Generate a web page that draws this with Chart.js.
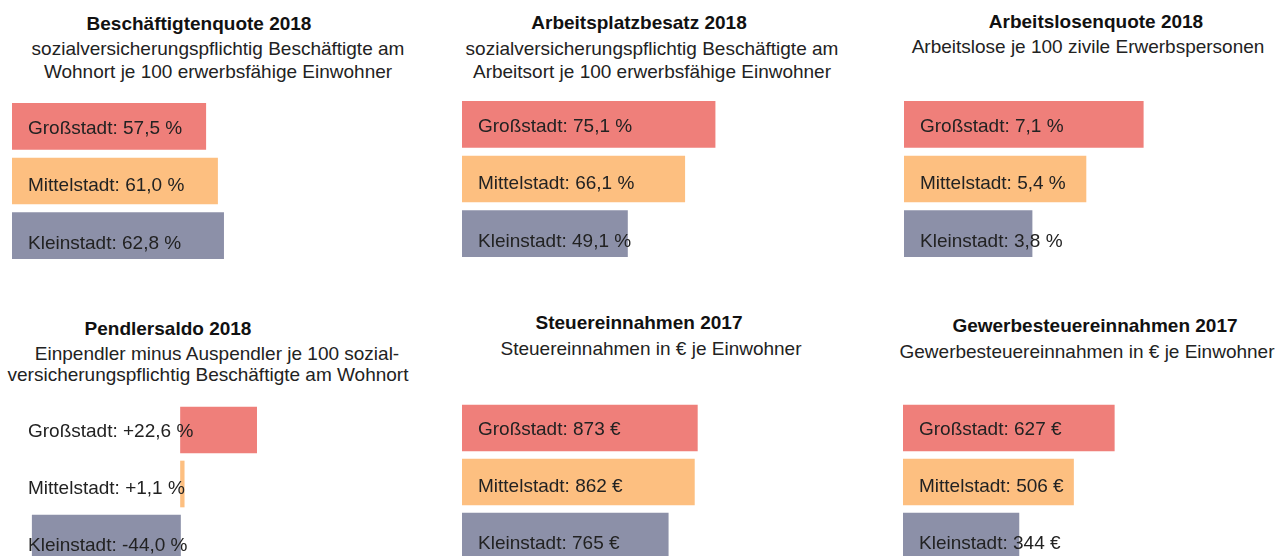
<!DOCTYPE html>
<html lang="de">
<head>
<meta charset="utf-8">
<title>Großstadt, Mittelstadt, Kleinstadt</title>
<script src="https://cdn.jsdelivr.net/npm/chart.js@4/dist/chart.umd.min.js"></script>
<style>
  html, body { margin: 0; padding: 0; background: #fff; }
  body { width: 1279px; height: 556px; position: relative; overflow: hidden;
         font-family: "Liberation Sans", Arial, sans-serif; color: #222; }
  .line { position: absolute; white-space: nowrap; font-size: 19px; line-height: 23px;
          transform: translateX(-50%); }
  .line.head { font-weight: bold; color: #111; }
  .plot { position: absolute; }
</style>
</head>
<body>
<script>
/* ---------- data ---------- */
const categories = ["Großstadt", "Mittelstadt", "Kleinstadt"];
const beschaeftigtenquote = [57.5, 61.0, 62.8];
const arbeitsplatzbesatz = [75.1, 66.1, 49.1];
const arbeitslosenquote = [7.1, 5.4, 3.8];
const pendlersaldo = [22.6, 1.1, -44.0];
const steuereinnahmen = [873, 862, 765];
const gewerbesteuer = [627, 506, 344];

const colors = ["#ef7f7a", "#fdbf80", "#8c90a8"];

/* ---------- formatters ---------- */
const pct = v => v.toFixed(1).replace(".", ",") + " %";
const pctSigned = v => (v > 0 ? "+" : "") + pct(v);
const eur = v => v + " €";

/* ---------- panels ---------- */
const panels = [
  { data: beschaeftigtenquote, fmt: pct, min: 0, max: 100,
    left: 12, top: 99, height: 164,
    lines: [["Beschäftigtenquote 2018", 199, 30, true],
            ["sozialversicherungspflichtig Beschäftigte am", 218, 55],
            ["Wohnort je 100 erwerbsfähige Einwohner", 218, 78]] },
  { data: arbeitsplatzbesatz, fmt: pct, min: 0, max: 100,
    left: 462, top: 97, height: 164,
    lines: [["Arbeitsplatzbesatz 2018", 639, 29, true],
            ["sozialversicherungspflichtig Beschäftigte am", 652, 55],
            ["Arbeitsort je 100 erwerbsfähige Einwohner", 652, 78]] },
  { data: arbeitslosenquote, fmt: pct, min: 0, max: 10,
    left: 904, top: 97, height: 164,
    lines: [["Arbeitslosenquote 2018", 1096, 28, true],
            ["Arbeitslose je 100 zivile Erwerbspersonen", 1088, 53]] },
  { data: pendlersaldo, fmt: pctSigned, min: -50, max: 50,
    left: 12, top: 403, height: 162,
    lines: [["Pendlersaldo 2018", 168, 335, true],
            ["Einpendler minus Auspendler je 100 sozial-", 217, 360],
            ["versicherungspflichtig Beschäftigte am Wohnort", 208, 381]] },
  { data: steuereinnahmen, fmt: eur, min: 0, max: 1250,
    left: 462, top: 401, height: 162,
    lines: [["Steuereinnahmen 2017", 639, 329, true],
            ["Steuereinnahmen in € je Einwohner", 651, 355]] },
  { data: gewerbesteuer, fmt: eur, min: 0, max: 1000,
    left: 903, top: 401, height: 162,
    lines: [["Gewerbesteuereinnahmen 2017", 1095, 332, true],
            ["Gewerbesteuereinnahmen in € je Einwohner", 1087, 358]] },
];

// text inside the bars, always from the left edge of the plot
const barLabels = {
  id: "barLabels",
  afterDatasetsDraw(chart, args, opts) {
    const { ctx, chartArea } = chart;
    const meta = chart.getDatasetMeta(0);
    ctx.save();
    ctx.font = "19px 'Liberation Sans', Arial, sans-serif";
    ctx.fillStyle = "#222";
    ctx.textBaseline = "middle";
    meta.data.forEach((bar, i) => {
      const v = chart.data.datasets[0].data[i];
      ctx.fillText(categories[i] + ": " + opts.fmt(v), chartArea.left + 16, bar.y + 2 + i * 3);
    });
    ctx.restore();
  },
};

panels.forEach(p => {
  p.lines.forEach(([text, cx, baseline, head]) => {
    const d = document.createElement("div");
    d.className = "line" + (head ? " head" : "");
    d.textContent = text;
    d.style.left = cx + "px";
    d.style.top = (baseline - 18) + "px";
    document.body.appendChild(d);
  });

  const box = document.createElement("div");
  box.className = "plot";
  box.style.left = p.left + "px";
  box.style.top = p.top + "px";
  const cv = document.createElement("canvas");
  cv.width = 337;
  cv.height = p.height;
  box.appendChild(cv);
  document.body.appendChild(box);

  new Chart(cv, {
    type: "bar",
    data: {
      labels: categories,
      datasets: [{
        data: p.data,
        backgroundColor: colors,
        borderWidth: 0,
        barThickness: 46,
      }],
    },
    options: {
      indexAxis: "y",
      responsive: false,
      animation: false,
      layout: { padding: 0 },
      plugins: {
        legend: { display: false },
        tooltip: { enabled: false },
        barLabels: { fmt: p.fmt },
      },
      scales: {
        x: { display: false, min: p.min, max: p.max },
        y: { display: false },
      },
    },
    plugins: [barLabels],
  });
});
</script>
</body>
</html>
